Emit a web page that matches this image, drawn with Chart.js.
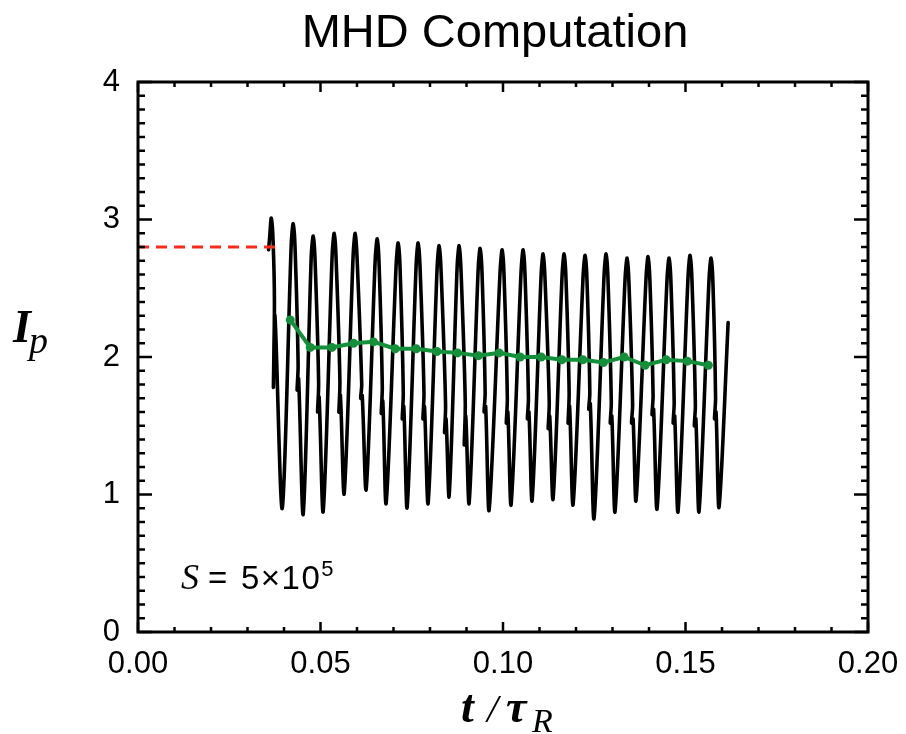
<!DOCTYPE html>
<html>
<head>
<meta charset="utf-8">
<title>MHD Computation</title>
<script src="https://cdn.jsdelivr.net/npm/chart.js@4/dist/chart.umd.min.js"></script>
<style>
  html, body { margin: 0; padding: 0; background: #fff; }
  #wrap { width: 906px; height: 734px; }
</style>
</head>
<body>
<div id="wrap"><canvas id="ipChart" width="906" height="734"></canvas></div>
<script>
// plasma current I_p vs t/tau_R, one line per oscillation cycle
const ipTime = [
  0.03577, 0.03610, 0.03651, 0.03700, 0.03738, 0.03710, 0.03752, 0.03952,
  0.04198, 0.04253, 0.04302, 0.04387, 0.04359, 0.04401, 0.04527,
  0.04746, 0.04801, 0.04850, 0.04949, 0.04920, 0.04962, 0.05075,
  0.05321, 0.05376, 0.05425, 0.05532, 0.05504, 0.05546, 0.05650,
  0.05896, 0.05951, 0.06000, 0.06129, 0.06101, 0.06143, 0.06252,
  0.06499, 0.06554, 0.06603, 0.06693, 0.06665, 0.06707, 0.06800,
  0.07074, 0.07129, 0.07178, 0.07268, 0.07240, 0.07282, 0.07375,
  0.07622, 0.07676, 0.07726, 0.07835, 0.07807, 0.07849, 0.07950,
  0.08197, 0.08251, 0.08301, 0.08427, 0.08399, 0.08440, 0.08525,
  0.08744, 0.08799, 0.08848, 0.08966, 0.08938, 0.08980, 0.09073,
  0.09320, 0.09374, 0.09424, 0.09511, 0.09483, 0.09525, 0.09621,
  0.09922, 0.09977, 0.10026, 0.10119, 0.10091, 0.10133, 0.10223,
  0.10497, 0.10552, 0.10601, 0.10697, 0.10669, 0.10711, 0.10798,
  0.11045, 0.11100, 0.11149, 0.11267, 0.11238, 0.11280, 0.11373,
  0.11620, 0.11675, 0.11724, 0.11812, 0.11783, 0.11825, 0.11921,
  0.12195, 0.12250, 0.12299, 0.12379, 0.12350, 0.12392, 0.12496,
  0.12770, 0.12825, 0.12874, 0.12967, 0.12939, 0.12981, 0.13071,
  0.13345, 0.13400, 0.13449, 0.13551, 0.13522, 0.13564, 0.13647,
  0.13920, 0.13975, 0.14024, 0.14112, 0.14084, 0.14126, 0.14222,
  0.14495, 0.14550, 0.14600, 0.14690, 0.14662, 0.14704, 0.14797,
  0.15071, 0.15125, 0.15175, 0.15271, 0.15242, 0.15284, 0.15372,
  0.15646, 0.15700, 0.15750, 0.15824, 0.15795, 0.15837, 0.15920, 0.16168
];
const ipValue = [
  2.78, 2.88, 3.01, 2.85, 2.40, 1.78, 2.30, 0.90,
  2.82, 2.97, 2.80, 1.94, 1.76, 1.84, 0.86,
  2.73, 2.88, 2.71, 1.81, 1.60, 1.71, 0.88,
  2.75, 2.90, 2.73, 1.82, 1.60, 1.72, 1.01,
  2.75, 2.90, 2.73, 1.80, 1.70, 1.72, 1.04,
  2.71, 2.86, 2.69, 1.78, 1.59, 1.68, 0.94,
  2.68, 2.83, 2.66, 1.74, 1.55, 1.64, 0.91,
  2.68, 2.83, 2.66, 1.74, 1.55, 1.64, 0.94,
  2.66, 2.81, 2.64, 1.65, 1.45, 1.55, 0.99,
  2.66, 2.81, 2.64, 1.67, 1.36, 1.57, 0.94,
  2.64, 2.79, 2.62, 1.74, 1.60, 1.64, 0.89,
  2.63, 2.78, 2.61, 1.70, 1.52, 1.60, 0.93,
  2.63, 2.78, 2.61, 1.70, 1.55, 1.60, 0.96,
  2.60, 2.75, 2.58, 1.67, 1.48, 1.57, 0.97,
  2.60, 2.75, 2.58, 1.74, 1.52, 1.64, 0.93,
  2.59, 2.74, 2.57, 1.74, 1.62, 1.66, 0.83,
  2.60, 2.75, 2.58, 1.67, 1.52, 1.57, 0.88,
  2.57, 2.72, 2.55, 1.65, 1.52, 1.55, 0.96,
  2.58, 2.73, 2.56, 1.72, 1.58, 1.62, 0.90,
  2.57, 2.72, 2.55, 1.67, 1.52, 1.57, 0.88,
  2.59, 2.74, 2.57, 1.65, 1.50, 1.55, 0.88,
  2.57, 2.72, 2.55, 1.70, 1.55, 1.60, 0.91, 2.25
];

// cycle averaged current (green)
const avgTime = [
  0.04171, 0.04719, 0.05313, 0.05904, 0.06452, 0.07046, 0.07622,
  0.08188, 0.08753, 0.09328, 0.09895, 0.10470, 0.11045, 0.11612,
  0.12187, 0.12751, 0.13318, 0.13893, 0.14468, 0.15051, 0.15626
];
const avgValue = [
  2.27, 2.07, 2.07, 2.10, 2.11, 2.06, 2.06,
  2.04, 2.03, 2.01, 2.03, 2.00, 2.00, 1.98,
  1.98, 1.96, 2.00, 1.94, 1.98, 1.97, 1.94
];

// initial current level (red dashed)
const refTime = [0.0, 0.0379];
const refValue = [2.8, 2.8];

const xRange = [0, 0.2];
const yRange = [0, 4];

function toPoints(xs, ys) {
  return xs.map((x, i) => ({ x: x, y: ys[i] }));
}

const sansFont = '"Liberation Sans", Arial, Helvetica, sans-serif';
const serifFont = '"Liberation Serif", "Times New Roman", serif';

// box with inward ticks on all four sides, plus the labels
const framePlugin = {
  id: 'frame',
  afterDraw(chart) {
    const ctx = chart.ctx;
    const a = chart.chartArea;
    const xs = chart.scales.x;
    const ys = chart.scales.y;
    ctx.save();
    ctx.strokeStyle = '#000';
    ctx.lineWidth = 2.5;
    ctx.beginPath();
    for (let i = 0; i <= 40; i++) {
      const y = ys.getPixelForValue(i / 10);
      const len = i % 10 === 0 ? 14 : 7;
      ctx.moveTo(a.left, y); ctx.lineTo(a.left + len, y);
      ctx.moveTo(a.right, y); ctx.lineTo(a.right - len, y);
    }
    for (let i = 0; i <= 20; i++) {
      const x = xs.getPixelForValue(i / 100);
      const len = i % 5 === 0 ? 10 : 5;
      ctx.moveTo(x, a.bottom); ctx.lineTo(x, a.bottom - len);
      ctx.moveTo(x, a.top); ctx.lineTo(x, a.top + len);
    }
    ctx.stroke();
    ctx.lineWidth = 3;
    ctx.strokeRect(a.left, a.top, a.right - a.left, a.bottom - a.top);

    ctx.fillStyle = '#000';
    ctx.textBaseline = 'alphabetic';

    // title
    ctx.textAlign = 'center';
    ctx.font = '47px ' + sansFont;
    ctx.fillText('MHD Computation', 495, 47);

    ctx.textAlign = 'left';
    // y axis title I_p
    ctx.font = 'italic bold 46px ' + serifFont;
    ctx.fillText('I', 13, 342);
    ctx.font = 'italic 38px ' + serifFont;
    ctx.fillText('p', 29, 353);

    // x axis title t / tau_R
    ctx.font = 'italic bold 46px ' + serifFont;
    ctx.fillText('t', 461, 722);
    ctx.font = 'italic 40px ' + serifFont;
    ctx.fillText('/', 487, 722);
    ctx.font = 'italic bold 46px ' + serifFont;
    ctx.fillText('\u03c4', 506, 722);
    ctx.font = 'italic 34px ' + serifFont;
    ctx.fillText('R', 532, 732);

    // S = 5x10^5
    ctx.font = 'italic 36px ' + serifFont;
    ctx.fillText('S', 181, 589);
    ctx.font = '33px ' + sansFont;
    ctx.fillText('=', 208, 589);
    ctx.letterSpacing = '1.5px';
    ctx.fillText('5\u00d710', 241, 589);
    const w = ctx.measureText('5\u00d710').width;
    ctx.letterSpacing = '0px';
    ctx.font = '22px ' + sansFont;
    ctx.fillText('5', 241 + w, 576);
    ctx.restore();
  }
};

const ctx = document.getElementById('ipChart').getContext('2d');
const ipChart = new Chart(ctx, {
  type: 'scatter',
  data: {
    datasets: [
      {
        label: 'initial',
        data: toPoints(refTime, refValue),
        showLine: true,
        borderColor: '#ff2a1a',
        borderWidth: 3,
        borderDash: [11, 7],
        pointRadius: 0,
        order: 0
      },
      {
        label: 'average',
        data: toPoints(avgTime, avgValue),
        showLine: true,
        borderColor: '#15903a',
        backgroundColor: '#15903a',
        borderWidth: 4,
        pointRadius: 4.5,
        pointBorderWidth: 0,
        order: 1
      },
      {
        label: 'Ip',
        data: toPoints(ipTime, ipValue),
        showLine: true,
        borderColor: '#000',
        borderWidth: 3.6,
        borderJoinStyle: 'round',
        borderCapStyle: 'round',
        tension: 0.3,
        pointRadius: 0,
        order: 2
      }
    ]
  },
  options: {
    responsive: false,
    animation: false,
    layout: { padding: { left: 0, right: 38, top: 82, bottom: 0 } },
    plugins: {
      legend: { display: false },
      tooltip: { enabled: false },
      title: { display: false }
    },
    scales: {
      x: {
        type: 'linear',
        min: xRange[0],
        max: xRange[1],
        grid: { display: false },
        border: { display: false },
        afterFit: (scale) => { scale.height = 102; },
        ticks: {
          stepSize: 0.05,
          padding: 6,
          color: '#000',
          maxRotation: 0,
          font: { family: sansFont, size: 31 },
          callback: (v) => Number(v).toFixed(2)
        }
      },
      y: {
        type: 'linear',
        min: yRange[0],
        max: yRange[1],
        grid: { display: false },
        border: { display: false },
        afterFit: (scale) => { scale.width = 138; },
        ticks: {
          stepSize: 1,
          padding: 10,
          color: '#000',
          font: { family: sansFont, size: 31 }
        }
      }
    }
  },
  plugins: [framePlugin]
});
</script>
</body>
</html>
